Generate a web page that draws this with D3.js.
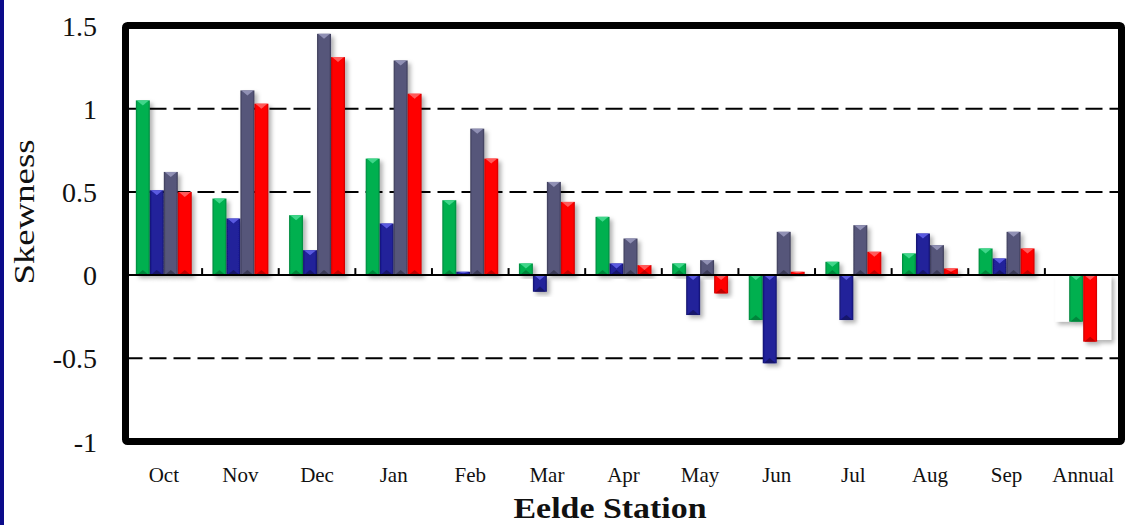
<!DOCTYPE html>
<html>
<head>
<meta charset="utf-8">
<script src="https://cdn.jsdelivr.net/npm/d3@7"></script>
<style>
  html, body { margin: 0; padding: 0; background: #fff; }
  svg { display: block; }
  text { font-family: "Liberation Serif", "Times New Roman", serif; fill: #111; }
</style>
</head>
<body>
<svg id="chart" width="1127" height="525"></svg>
<script>
// Monthly skewness, Eelde station
const categories = ["Oct", "Nov", "Dec", "Jan", "Feb", "Mar", "Apr", "May", "Jun", "Jul", "Aug", "Sep", "Annual"];
const months = categories.slice(0, 12);

const greenVals = [1.05, 0.46, 0.36, 0.70, 0.45, 0.07, 0.35, 0.07, -0.27, 0.08, 0.13, 0.16];
const blueVals  = [0.51, 0.34, 0.15, 0.31, 0.02, -0.10, 0.07, -0.24, -0.53, -0.27, 0.25, 0.10];
const grayVals  = [0.62, 1.11, 1.45, 1.29, 0.88, 0.56, 0.22, 0.09, 0.26, 0.30, 0.18, 0.26];
const redVals   = [0.50, 1.03, 1.31, 1.09, 0.70, 0.44, 0.06, -0.11, 0.02, 0.14, 0.04, 0.16];

// Annual group: four slots, the outer two drawn as plain white boxes
const annualVals   = [-0.28, -0.28, -0.40, -0.39];
const annualStyles = ["white", "green", "red", "white"];

const yTicks = [-1, -0.5, 0, 0.5, 1, 1.5];
const gridVals = [1, 0.5, -0.5];

const palette = {
  green: { base: "#00b050", edge: "#00853c", top: "#3fd68a", bottom: "#007a36" },
  blue:  { base: "#20209a", edge: "#12126a", top: "#5a5ae0", bottom: "#10105e" },
  gray:  { base: "#56567a", edge: "#3a3a56", top: "#9090b4", bottom: "#34344e" },
  red:   { base: "#ff0000", edge: "#c80000", top: "#ff5a5a", bottom: "#b00000" }
};
const seriesKeys = ["green", "blue", "gray", "red"];
const seriesVals = { green: greenVals, blue: blueVals, gray: grayVals, red: redVals };

const svg = d3.select("#chart");

// Left accent strip
svg.append("rect").attr("x", 0).attr("y", 0).attr("width", 4).attr("height", 525).attr("fill", "#0b0b8a");

const plot = { left: 125.5, right: 1121.5, top: 25.5, bottom: 441.5 };

const x0 = d3.scaleBand().domain(categories)
  .range([plot.left, plot.right]).paddingInner(0.27).paddingOuter(0.135);
const x1 = d3.scaleBand().domain(d3.range(4)).range([0, x0.bandwidth()]).padding(0);
const y = d3.scaleLinear().domain([-1, 1.5]).range([plot.bottom, plot.top]);

const defs = svg.append("defs");
const shadow = defs.append("filter").attr("id", "barShadow")
  .attr("x", "-40%").attr("y", "-20%").attr("width", "200%").attr("height", "150%");
shadow.append("feDropShadow").attr("dx", 3).attr("dy", 3).attr("stdDeviation", 2)
  .attr("flood-color", "#000").attr("flood-opacity", 0.3);

Object.entries(palette).forEach(([key, c]) => {
  const g = defs.append("linearGradient").attr("id", "grad-" + key)
    .attr("x1", "0%").attr("x2", "100%").attr("y1", "0%").attr("y2", "0%");
  g.append("stop").attr("offset", "0%").attr("stop-color", c.edge);
  g.append("stop").attr("offset", "14%").attr("stop-color", c.base);
  g.append("stop").attr("offset", "86%").attr("stop-color", c.base);
  g.append("stop").attr("offset", "100%").attr("stop-color", c.edge);
});

// Dashed gridlines
svg.append("g").selectAll("line").data(gridVals).join("line")
  .attr("x1", plot.left).attr("x2", plot.right)
  .attr("y1", d => y(d)).attr("y2", d => y(d))
  .attr("stroke", "#000").attr("stroke-width", 2).attr("stroke-dasharray", "17,7");

// Build the bar list
const bars = [];
months.forEach((m, i) => {
  seriesKeys.forEach((k, j) => bars.push({ cat: m, slot: j, value: seriesVals[k][i], style: k }));
});
annualVals.forEach((v, j) => bars.push({ cat: "Annual", slot: j, value: v, style: annualStyles[j] }));

const barLayer = svg.append("g");
const bevel = 5;
bars.forEach(b => {
  const bx = x0(b.cat) + x1(b.slot);
  const w = x1.bandwidth();
  const yTop = Math.min(y(b.value), y(0));
  const yBot = Math.max(y(b.value), y(0));
  const h = yBot - yTop;
  const g = barLayer.append("g").attr("filter", "url(#barShadow)");
  if (b.style === "white") {
    g.append("rect").attr("x", bx).attr("y", yTop).attr("width", w).attr("height", h).attr("fill", "#fff");
    return;
  }
  const c = palette[b.style];
  g.append("rect").attr("x", bx).attr("y", yTop).attr("width", w).attr("height", h)
    .attr("fill", `url(#grad-${b.style})`);
  const bv = Math.min(bevel, h / 2);
  // light facet on top edge
  g.append("path")
    .attr("d", `M${bx + 1},${yTop}L${bx + w - 1},${yTop}L${bx + w / 2},${yTop + bv}Z`)
    .attr("fill", c.top);
  // dark facet on bottom edge
  g.append("path")
    .attr("d", `M${bx + 1},${yBot}L${bx + w - 1},${yBot}L${bx + w / 2},${yBot - bv}Z`)
    .attr("fill", c.bottom).attr("opacity", 0.8);
});

// Zero line and category separators
svg.append("line").attr("x1", plot.left).attr("x2", plot.right)
  .attr("y1", y(0)).attr("y2", y(0)).attr("stroke", "#000").attr("stroke-width", 2);
const step = x0.step();
svg.append("g").selectAll("line").data(categories.slice(1)).join("line")
  .attr("x1", d => x0(d) - step * x0.paddingInner() / 2)
  .attr("x2", d => x0(d) - step * x0.paddingInner() / 2)
  .attr("y1", y(0)).attr("y2", y(0) - 7)
  .attr("stroke", "#000").attr("stroke-width", 2);

// Frame
svg.append("rect")
  .attr("x", plot.left).attr("y", plot.top)
  .attr("width", plot.right - plot.left).attr("height", plot.bottom - plot.top)
  .attr("rx", 2).attr("fill", "none").attr("stroke", "#000").attr("stroke-width", 7);

// Y tick labels
const yAxis = d3.axisLeft(y).tickValues(yTicks).tickSize(0).tickPadding(0).tickFormat(d => String(d));
const ya = svg.append("g").attr("transform", "translate(97,0)").call(yAxis);
ya.select(".domain").remove();
ya.selectAll("text").attr("font-size", 28).attr("font-family", "Liberation Serif, serif").attr("fill", "#111")
  .attr("dy", "0.34em");

// X category labels
const xAxis = d3.axisBottom(x0).tickSize(0).tickPadding(0);
const xa = svg.append("g").attr("transform", "translate(0,466)").call(xAxis);
xa.select(".domain").remove();
xa.selectAll("text").attr("font-size", 21).attr("font-family", "Liberation Serif, serif").attr("fill", "#111")
  .attr("dy", "0.78em");

// Axis titles
svg.append("text").attr("x", 610).attr("y", 518).attr("text-anchor", "middle")
  .attr("font-size", 29).attr("font-weight", "bold").attr("textLength", 193)
  .attr("lengthAdjust", "spacingAndGlyphs").text("Eelde Station");
svg.append("text").attr("transform", "translate(34,212) rotate(-90)").attr("text-anchor", "middle")
  .attr("font-size", 29).attr("textLength", 145).attr("lengthAdjust", "spacingAndGlyphs").text("Skewness");
</script>
</body>
</html>
